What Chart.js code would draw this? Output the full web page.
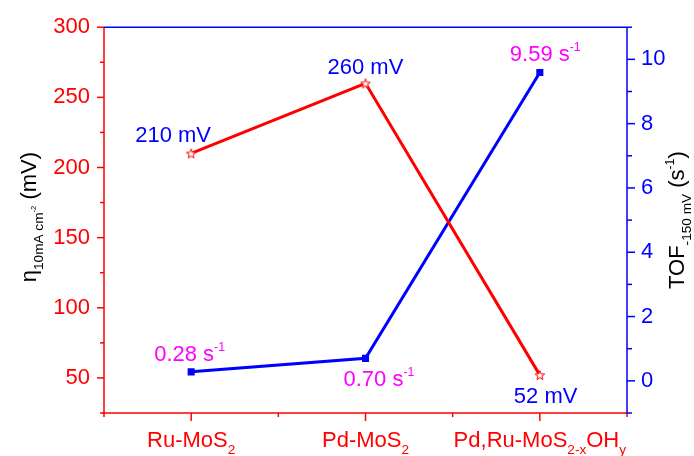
<!DOCTYPE html>
<html>
<head>
<meta charset="utf-8">
<title>Overpotential and TOF</title>
<script src="https://cdn.jsdelivr.net/npm/chart.js@4/dist/chart.umd.min.js"></script>
<style>
  html, body { margin: 0; padding: 0; background: #ffffff; }
  #wrap { width: 694px; height: 456px; }
</style>
</head>
<body>
<div id="wrap"><canvas id="c" width="694" height="456"></canvas></div>
<script>
// Catalysts (markup: _x / _{..} subscript, ^x / ^{..} superscript)
const categories = ['Ru-MoS_2', 'Pd-MoS_2', 'Pd,Ru-MoS_{2-x}OH_y'];
// Overpotential at 10 mA cm^-2 (mV), left axis
const overpotential = [210, 260, 52];
// Turnover frequency at -150 mV (s^-1), right axis
const tof = [0.28, 0.70, 9.59];

const leftTicks = [50, 100, 150, 200, 250, 300];
const leftMinorTicks = [25, 75, 125, 175, 225, 275];
const rightTicks = [0, 2, 4, 6, 8, 10];
const rightMinorTicks = [-1, 1, 3, 5, 7, 9, 11];

const leftTitle = 'η_{10mA cm^{-2}} (mV)';
const rightTitle = 'TOF_{-150 mV} (s^{-1})';

const RED = '#ff0000', BLUE = '#0000ff', MAGENTA = '#ff00ff';
const FAMILY = '"Liberation Sans", Arial, Helvetica, sans-serif';
const fontOf = px => `${px}px ${FAMILY}`;

// Value-label placement relative to each point (left x, baseline y)
const mvLabelOffsets = [[-56, -11], [-38, -9], [-26, 28]];
const tofLabelOffsets = [[-37, -11], [-22, 28], [-30, -12]];

// --- rich text with sub/superscripts -------------------------------------
function parseRich(str, scale = 1, shift = 0, out = []) {
  let buf = '';
  const flush = () => { if (buf) { out.push({ text: buf, scale, shift }); buf = ''; } };
  for (let i = 0; i < str.length; i++) {
    const ch = str[i];
    if (ch === '_' || ch === '^') {
      flush();
      let group;
      if (str[i + 1] === '{') {
        let depth = 0, j = i + 1;
        for (; j < str.length; j++) {
          if (str[j] === '{') depth++;
          else if (str[j] === '}') { depth--; if (depth === 0) break; }
        }
        group = str.slice(i + 2, j);
        i = j;
      } else {
        group = str[i + 1];
        i += 1;
      }
      if (ch === '_') parseRich(group, scale * 0.62, shift + 0.3 * scale, out);
      else parseRich(group, scale * 0.56, shift - 0.45 * scale, out);
    } else {
      buf += ch;
    }
  }
  flush();
  return out;
}

function drawRich(ctx, str, x, y, size, color, align) {
  const segs = parseRich(str);
  ctx.save();
  ctx.fillStyle = color;
  ctx.textAlign = 'left';
  ctx.textBaseline = 'alphabetic';
  let total = 0;
  segs.forEach(sg => {
    ctx.font = fontOf(size * sg.scale);
    sg.w = ctx.measureText(sg.text).width;
    total += sg.w;
  });
  let cx = align === 'center' ? x - total / 2 : x;
  segs.forEach(sg => {
    ctx.font = fontOf(size * sg.scale);
    ctx.fillText(sg.text, cx, y + sg.shift * size);
    cx += sg.w;
  });
  ctx.restore();
}

// --- hollow star marker ------------------------------------------------------
function makeStar(r, color) {
  const size = Math.ceil(r * 2 + 4);
  const c = document.createElement('canvas');
  c.width = c.height = size;
  const g = c.getContext('2d');
  const cx = size / 2, cy = size / 2 + r * 0.1;
  g.beginPath();
  for (let k = 0; k < 10; k++) {
    const rad = k % 2 === 0 ? r : r * 0.42;
    const a = -Math.PI / 2 + k * Math.PI / 5;
    g.lineTo(cx + rad * Math.cos(a), cy + rad * Math.sin(a));
  }
  g.closePath();
  g.fillStyle = '#ffffff';
  g.fill();
  g.strokeStyle = color;
  g.lineWidth = 1;
  g.stroke();
  return c;
}
const starMarker = makeStar(5, RED);

// --- frame, ticks, titles and value labels -----------------------------------
const decor = {
  id: 'decor',
  beforeDatasetsDraw(chart) {
    const { ctx, chartArea: a, scales } = chart;
    const line = (x1, y1, x2, y2, color) => {
      ctx.strokeStyle = color;
      ctx.beginPath(); ctx.moveTo(x1, y1); ctx.lineTo(x2, y2); ctx.stroke();
    };
    ctx.save();
    ctx.lineWidth = 1.5;
    ctx.lineCap = 'butt';
    // left axis + bottom axis (red)
    line(a.left, a.top, a.left, a.bottom, RED);
    line(a.left - 1, a.bottom, a.right, a.bottom, RED);
    leftTicks.forEach(v => { const y = scales.y.getPixelForValue(v); line(a.left - 7, y, a.left, y, RED); });
    leftMinorTicks.forEach(v => { const y = scales.y.getPixelForValue(v); line(a.left - 4, y, a.left, y, RED); });
    categories.forEach((c, i) => { const x = scales.x.getPixelForValue(i); line(x, a.bottom, x, a.bottom + 8, RED); });
    for (let i = -0.5; i <= categories.length - 0.5; i += 1) {
      const x = scales.x.getPixelForValue(i);
      line(x, a.bottom, x, a.bottom + 4, RED);
    }
    // top frame + right axis (blue)
    line(a.left, a.top, a.right, a.top, BLUE);
    line(a.right, a.top, a.right, a.bottom + 0.75, BLUE);
    rightTicks.forEach(v => { const y = scales.y1.getPixelForValue(v); line(a.right, y, a.right + 8, y, BLUE); });
    rightMinorTicks.forEach(v => { const y = scales.y1.getPixelForValue(v); line(a.right, y, a.right + 5, y, BLUE); });
    ctx.restore();
  },
  afterDatasetsDraw(chart) {
    const { ctx } = chart;
    const mvMeta = chart.getDatasetMeta(0);
    const tofMeta = chart.getDatasetMeta(1);
    overpotential.forEach((v, i) => {
      const p = mvMeta.data[i];
      const [dx, dy] = mvLabelOffsets[i];
      drawRich(ctx, `${v} mV`, p.x + dx, p.y + dy, 22, BLUE, 'left');
    });
    tof.forEach((v, i) => {
      const p = tofMeta.data[i];
      const [dx, dy] = tofLabelOffsets[i];
      drawRich(ctx, `${v.toFixed(2)} s^{-1}`, p.x + dx, p.y + dy, 22, MAGENTA, 'left');
    });
  },
  afterDraw(chart) {
    const { ctx, chartArea: a, scales } = chart;
    // category labels
    categories.forEach((c, i) => {
      drawRich(ctx, c, scales.x.getPixelForValue(i), a.bottom + 34, 22, RED, 'center');
    });
    const midY = (a.top + a.bottom) / 2;
    // left axis title
    ctx.save();
    ctx.translate(36, midY - 3);
    ctx.rotate(-Math.PI / 2);
    drawRich(ctx, leftTitle, 0, 0, 22, '#000000', 'center');
    ctx.restore();
    // right axis title
    ctx.save();
    ctx.translate(684, midY);
    ctx.rotate(-Math.PI / 2);
    drawRich(ctx, rightTitle, 0, 0, 22, '#000000', 'center');
    ctx.restore();
  }
};

new Chart(document.getElementById('c'), {
  type: 'line',
  data: {
    labels: categories,
    datasets: [
      {
        label: 'overpotential',
        data: overpotential,
        yAxisID: 'y',
        borderColor: RED,
        borderWidth: 3,
        pointStyle: starMarker,
        pointRadius: 6,
        tension: 0,
        fill: false
      },
      {
        label: 'TOF',
        data: tof,
        yAxisID: 'y1',
        borderColor: BLUE,
        borderWidth: 3,
        pointStyle: 'rect',
        pointRadius: 5,
        pointBackgroundColor: BLUE,
        pointBorderColor: BLUE,
        pointBorderWidth: 0,
        tension: 0,
        fill: false
      }
    ]
  },
  options: {
    responsive: false,
    animation: false,
    events: [],
    layout: { padding: { top: 24, left: 0, right: 0, bottom: 0 } },
    plugins: { legend: { display: false }, tooltip: { enabled: false } },
    scales: {
      x: {
        type: 'category',
        offset: true,
        grid: { display: false, drawTicks: false },
        border: { display: false },
        ticks: { display: false },
        afterFit: s => { s.height = 43; }
      },
      y: {
        position: 'left',
        min: 25,
        max: 300,
        afterBuildTicks: s => { s.ticks = leftTicks.map(v => ({ value: v })); },
        grid: { display: false, drawTicks: false },
        border: { display: false },
        ticks: { color: RED, font: { family: FAMILY, size: 22 }, padding: 14 },
        afterFit: s => { s.width = 104; }
      },
      y1: {
        position: 'right',
        min: -1,
        max: 11,
        afterBuildTicks: s => { s.ticks = rightTicks.map(v => ({ value: v })); },
        grid: { display: false, drawTicks: false },
        border: { display: false },
        ticks: { color: BLUE, font: { family: FAMILY, size: 22 }, padding: 14 },
        afterFit: s => { s.width = 67; }
      }
    }
  },
  plugins: [decor]
});
</script>
</body>
</html>
